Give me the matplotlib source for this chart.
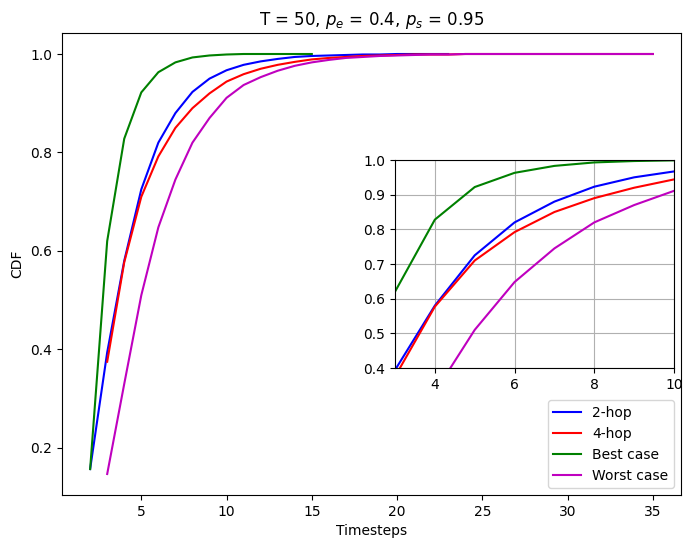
import numpy as np
import matplotlib.pyplot as plt

# Data
x_2hop = list(range(2, 24))
cdf_2hop = [0.157, 0.394, 0.580, 0.725, 0.820, 0.880, 0.923, 0.950, 0.967, 0.978,
            0.985, 0.990, 0.994, 0.996, 0.997, 0.998, 0.999, 0.999, 1.0, 1.0, 1.0, 1.0]

x_4hop = list(range(3, 36))
cdf_4hop = [0.375, 0.577, 0.710, 0.792, 0.850, 0.890, 0.920, 0.944, 0.959, 0.970,
            0.978, 0.984, 0.989, 0.992, 0.994, 0.996, 0.997, 0.998, 0.999, 0.999,
            0.999, 1.0, 1.0, 1.0, 1.0, 1.0, 1.0, 1.0, 1.0, 1.0, 1.0, 1.0, 1.0]

x_best = list(range(2, 16))
cdf_best = [0.157, 0.620, 0.828, 0.922, 0.963, 0.983, 0.993, 0.997, 0.999, 1.0,
            1.0, 1.0, 1.0, 1.0]

x_worst = list(range(3, 36))
cdf_worst = [0.147, 0.330, 0.510, 0.648, 0.745, 0.820, 0.870, 0.911, 0.937, 0.953,
             0.966, 0.976, 0.983, 0.988, 0.992, 0.994, 0.996, 0.997, 0.998, 0.999,
             0.999, 1.0, 1.0, 1.0, 1.0, 1.0, 1.0, 1.0, 1.0, 1.0, 1.0, 1.0, 1.0]

series = [
    (x_2hop, cdf_2hop, "b", "2-hop"),
    (x_4hop, cdf_4hop, "r", "4-hop"),
    (x_best, cdf_best, "g", "Best case"),
    (x_worst, cdf_worst, "m", "Worst case"),
]

W, H = 693, 548
fig = plt.figure(figsize=(W / 100, H / 100), dpi=100)
ax = fig.add_axes([62 / W, 1 - 495 / H, (681 - 62) / W, (495 - 33) / H])

for xs, ys, c, lab in series:
    ax.plot(xs, ys, c, label=lab)
ax.set_title("T = 50, $p_e$ = 0.4, $p_s$ = 0.95")
ax.set_xlabel("Timesteps")
ax.set_ylabel("CDF")
ax.legend(loc="lower right")

# zoomed inset
ins = fig.add_axes([395 / W, 1 - 368 / H, (674 - 395) / W, (368 - 160) / H])
for xs, ys, c, lab in series:
    ins.plot(xs, ys, c)
ins.set_xlim(3, 10)
ins.set_ylim(0.4, 1.0)
ins.grid()

plt.savefig("out.png", dpi=100)
